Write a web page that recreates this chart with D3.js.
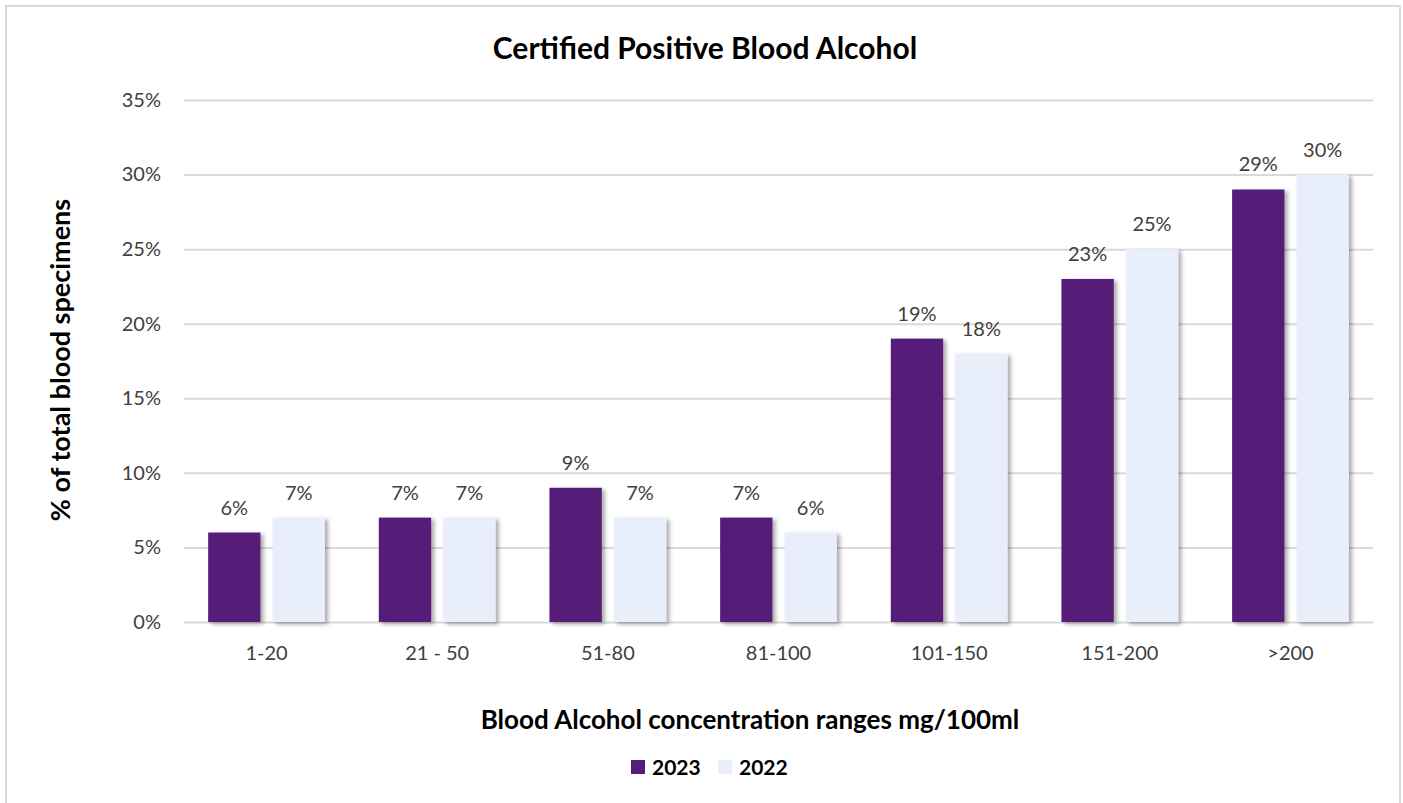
<!DOCTYPE html>
<html>
<head>
<meta charset="utf-8">
<script src="https://cdn.jsdelivr.net/npm/d3@7"></script>
<style>
  body { margin: 0; background: #fff; }
  svg text { font-family: "Lato", "Open Sans", sans-serif; }
</style>
</head>
<body>
<div id="chart"></div>
<script>
// chart data
const categories = ['1-20', '21 - 50', '51-80', '81-100', '101-150', '151-200', '>200'];
const seriesNames = ['2023', '2022'];
const values2023 = [6, 7, 9, 7, 19, 23, 29];
const values2022 = [7, 7, 7, 6, 18, 25, 30];
const yTicks = [0, 5, 10, 15, 20, 25, 30, 35];
const colors = ['#541f78', '#e8effb'];

const width = 1403, height = 803;
const margin = { left: 184, right: 30, top: 100, bottom: 181 };

const svg = d3.select('#chart').append('svg')
  .attr('width', width)
  .attr('height', height);

// shadow under bars
const defs = svg.append('defs');
const f = defs.append('filter').attr('id', 'shadow')
  .attr('x', '-20%').attr('y', '-20%').attr('width', '150%').attr('height', '150%');
f.append('feDropShadow')
  .attr('dx', 3).attr('dy', 2).attr('stdDeviation', 2)
  .attr('flood-color', '#000').attr('flood-opacity', 0.35);

// outer frame
svg.append('rect')
  .attr('x', 6).attr('y', 6)
  .attr('width', width - 9).attr('height', height - 4)
  .attr('fill', 'none').attr('stroke', '#d9d9d9').attr('stroke-width', 2);

const x0 = d3.scaleBand()
  .domain(categories)
  .range([margin.left, width - margin.right])
  .paddingInner(0.316)
  .paddingOuter(0.1415);

const x1 = d3.scaleBand()
  .domain(seriesNames)
  .range([0, x0.bandwidth()])
  .paddingInner(0.1875);

const y = d3.scaleLinear()
  .domain([0, 35])
  .range([height - margin.bottom, margin.top]);

// gridlines + y labels
const yAxis = d3.axisLeft(y)
  .tickValues(yTicks)
  .tickSize(-(width - margin.left - margin.right))
  .tickPadding(23)
  .tickFormat(d => d + '%');

const gy = svg.append('g')
  .attr('transform', `translate(${margin.left},0)`)
  .call(yAxis);
gy.select('.domain').remove();
gy.selectAll('.tick line').attr('stroke', '#d9d9d9').attr('stroke-width', 2);
gy.selectAll('.tick text').attr('fill', '#404040').style('font-size', '20px');

// x labels
const gx = svg.append('g')
  .attr('transform', `translate(0,${height - margin.bottom})`)
  .call(d3.axisBottom(x0).tickSize(0).tickPadding(24));
gx.select('.domain').remove();
gx.selectAll('.tick text').attr('fill', '#404040').style('font-size', '20px');

// bars
const rows = categories.map((c, i) => ({ cat: c, vals: [values2023[i], values2022[i]] }));

const groups = svg.append('g').selectAll('g')
  .data(rows)
  .enter().append('g')
  .attr('transform', d => `translate(${x0(d.cat)},0)`);

groups.selectAll('rect')
  .data(d => d.vals.map((v, j) => ({ key: seriesNames[j], v: v, j: j })))
  .enter().append('rect')
  .attr('x', d => x1(d.key))
  .attr('y', d => y(d.v))
  .attr('width', x1.bandwidth())
  .attr('height', d => y(0) - y(d.v))
  .attr('fill', d => colors[d.j])
  .attr('filter', 'url(#shadow)');

groups.selectAll('text.lbl')
  .data(d => d.vals.map((v, j) => ({ key: seriesNames[j], v: v })))
  .enter().append('text')
  .attr('class', 'lbl')
  .attr('x', d => x1(d.key) + x1.bandwidth() / 2)
  .attr('y', d => y(d.v) - 18)
  .attr('text-anchor', 'middle')
  .attr('fill', '#404040')
  .style('font-size', '20px')
  .text(d => d.v + '%');

// title
svg.append('text')
  .attr('x', 705).attr('y', 59)
  .attr('text-anchor', 'middle')
  .style('font-size', '30px').style('font-weight', 'bold')
  .attr('fill', '#000')
  .text('Certified Positive Blood Alcohol');

// axis titles
svg.append('text')
  .attr('transform', 'translate(70,360) rotate(-90)')
  .attr('text-anchor', 'middle')
  .style('font-size', '27px').style('font-weight', 'bold')
  .attr('fill', '#000')
  .text('% of total blood specimens');

svg.append('text')
  .attr('x', 750).attr('y', 729)
  .attr('text-anchor', 'middle')
  .style('font-size', '26px').style('font-weight', 'bold')
  .attr('fill', '#000')
  .text('Blood Alcohol concentration ranges mg/100ml');

// legend
const legend = svg.append('g').attr('transform', 'translate(631,760)');
const legendX = [0, 87];
seriesNames.forEach((s, i) => {
  const g = legend.append('g').attr('transform', `translate(${legendX[i]},0)`);
  g.append('rect').attr('width', 14).attr('height', 14).attr('fill', colors[i]);
  g.append('text').attr('x', 21).attr('y', 15)
    .style('font-size', '21px').style('font-weight', 'bold')
    .attr('fill', '#000')
    .text(s);
});
</script>
</body>
</html>
